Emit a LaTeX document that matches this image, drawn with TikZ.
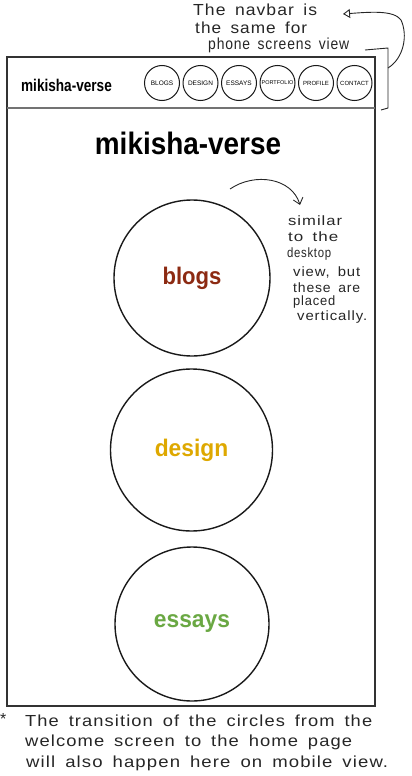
\documentclass[tikz,border=0pt]{standalone}
\usepackage{fontspec}
\setmainfont{Liberation Sans}
% loose, airy face for the hand-written notes
\newfontfamily\hand{Liberation Sans}[LetterSpace=6,WordSpace=1.6]
\usetikzlibrary{arrows.meta}
\newcommand{\squeeze}[2]{\scalebox{#1}[1]{#2}}
% stretch a line of notes to a given width, keeping its height
\newcommand{\spanto}[2]{\resizebox{#1}{\height}{#2}}

\begin{document}
\begin{tikzpicture}[x=1pt,y=-1pt,
  frame/.style={draw=black!80,line width=1.3pt},
  navrule/.style={draw=black!55,line width=2pt},
  navcirc/.style={circle,draw=black!90,line width=1pt,minimum size=35pt,inner sep=0pt,
    font=\fontsize{6.5}{7}\selectfont},
  bigcirc/.style={circle,draw=black!90,line width=1.4pt,minimum size=156pt,inner sep=0pt},
  heavy/.style={font=\bfseries,inner sep=0pt},
  note/.style={font=\hand\fontsize{16}{18}\selectfont,anchor=west,inner sep=0pt,text=black!85},
  sidenote/.style={font=\hand\fontsize{13.5}{15}\selectfont,anchor=west,inner sep=0pt,text=black!85},
  pen/.style={draw=black!85,line width=0.9pt}
]
\useasboundingbox (0,0) rectangle (412,776);

% phone frame and navbar
\draw[frame] (7,57) rectangle (375,706);
\draw[navrule] (7,108) -- (375,108);
\node[heavy,font=\bfseries\fontsize{17}{18}\selectfont] (brand) at (66.5,85) {\squeeze{0.8}{mikisha-verse}};

\node[navcirc] (nblogs) at (162,83) {BLOGS};
\node[navcirc] (ndesign) at (200.5,83) {DESIGN};
\node[navcirc] (nessays) at (239,83) {ESSAYS};
\node[navcirc,font=\fontsize{5.5}{6}\selectfont] (nportfolio) at (277.5,83) {PORTFOLIO};
\node[navcirc,font=\fontsize{6}{7}\selectfont] (nprofile) at (316,83) {PROFILE};
\node[navcirc,font=\fontsize{6}{7}\selectfont] (ncontact) at (354.5,83) {CONTACT};

% page title
\node[heavy,font=\bfseries\fontsize{31}{32}\selectfont] (title) at (188,143) {\squeeze{0.9}{mikisha-verse}};

% section circles
\node[bigcirc] (blogs) at (192,278) {};
\node[bigcirc,minimum size=162pt] (design) at (191.5,450) {};
\node[bigcirc,minimum size=154pt] (essays) at (192,624) {};
\node[heavy,text={rgb,255:red,140;green,42;blue,18},font=\bfseries\fontsize{24}{25}\selectfont] (tblogs) at (blogs.center) {\squeeze{0.92}{blogs}};
\node[heavy,text={rgb,255:red,222;green,168;blue,0},font=\bfseries\fontsize{24}{25}\selectfont] (tdesign) at (design.center) {\squeeze{0.95}{design}};
\node[heavy,text={rgb,255:red,106;green,168;blue,67},font=\bfseries\fontsize{24}{25}\selectfont] (tessays) at (essays.center) {\squeeze{0.95}{essays}};

% note about the navbar
\node[note] (n1) at (193,10) {\spanto{124pt}{The navbar is}};
\node[note] (n2) at (195,28) {\spanto{112pt}{the same for}};
\node[note] (n3) at (208,45) {\spanto{141pt}{phone screens view}};

\coordinate (bra) at (365,50);
\coordinate (brb) at (388,48);
\coordinate (brc) at (388,108);
\coordinate (brd) at (381,110);
\draw[pen] (bra) -- (brb) -- (brc) -- (brd);
\coordinate (hook) at (388,68);
\coordinate (bend) at (401,20);
\coordinate (navtip) at (343,14);
\draw[pen,-{Triangle[open,length=7pt,width=9pt]}] (hook) .. controls (404,58) and (408,35) .. (bend) .. controls (394,10) and (370,12) .. (navtip);

% note about the circles
\coordinate (arrstart) at (230,189);
\coordinate (arrtip) at (300,205);
\draw[pen,-{Straight Barb[length=6pt,width=10pt]}] (arrstart) .. controls (255,172) and (292,178) .. (arrtip);
\node[sidenote] (s1) at (288,221) {\spanto{54pt}{similar}};
\node[sidenote] (s2) at (288,237) {\spanto{50pt}{to the}};
\node[sidenote] (s3) at (287,254) {\spanto{44pt}{desktop}};
\node[sidenote] (s4) at (293,272) {\spanto{67pt}{view, but}};
\node[sidenote] (s5) at (293,288) {\spanto{67pt}{these are}};
\node[sidenote] (s6) at (293,302) {\spanto{42pt}{placed}};
\node[sidenote] (s7) at (297,317) {\spanto{70pt}{vertically.}};

% footnote
\node[note] (star) at (0,719) {*};
\node[note] (f1) at (25,721) {\spanto{347pt}{The transition of the circles from the}};
\node[note] (f2) at (25,742) {\spanto{327pt}{welcome screen to the home page}};
\node[note] (f3) at (26,763) {\spanto{362pt}{will also happen here on mobile view.}};
\end{tikzpicture}
\end{document}
